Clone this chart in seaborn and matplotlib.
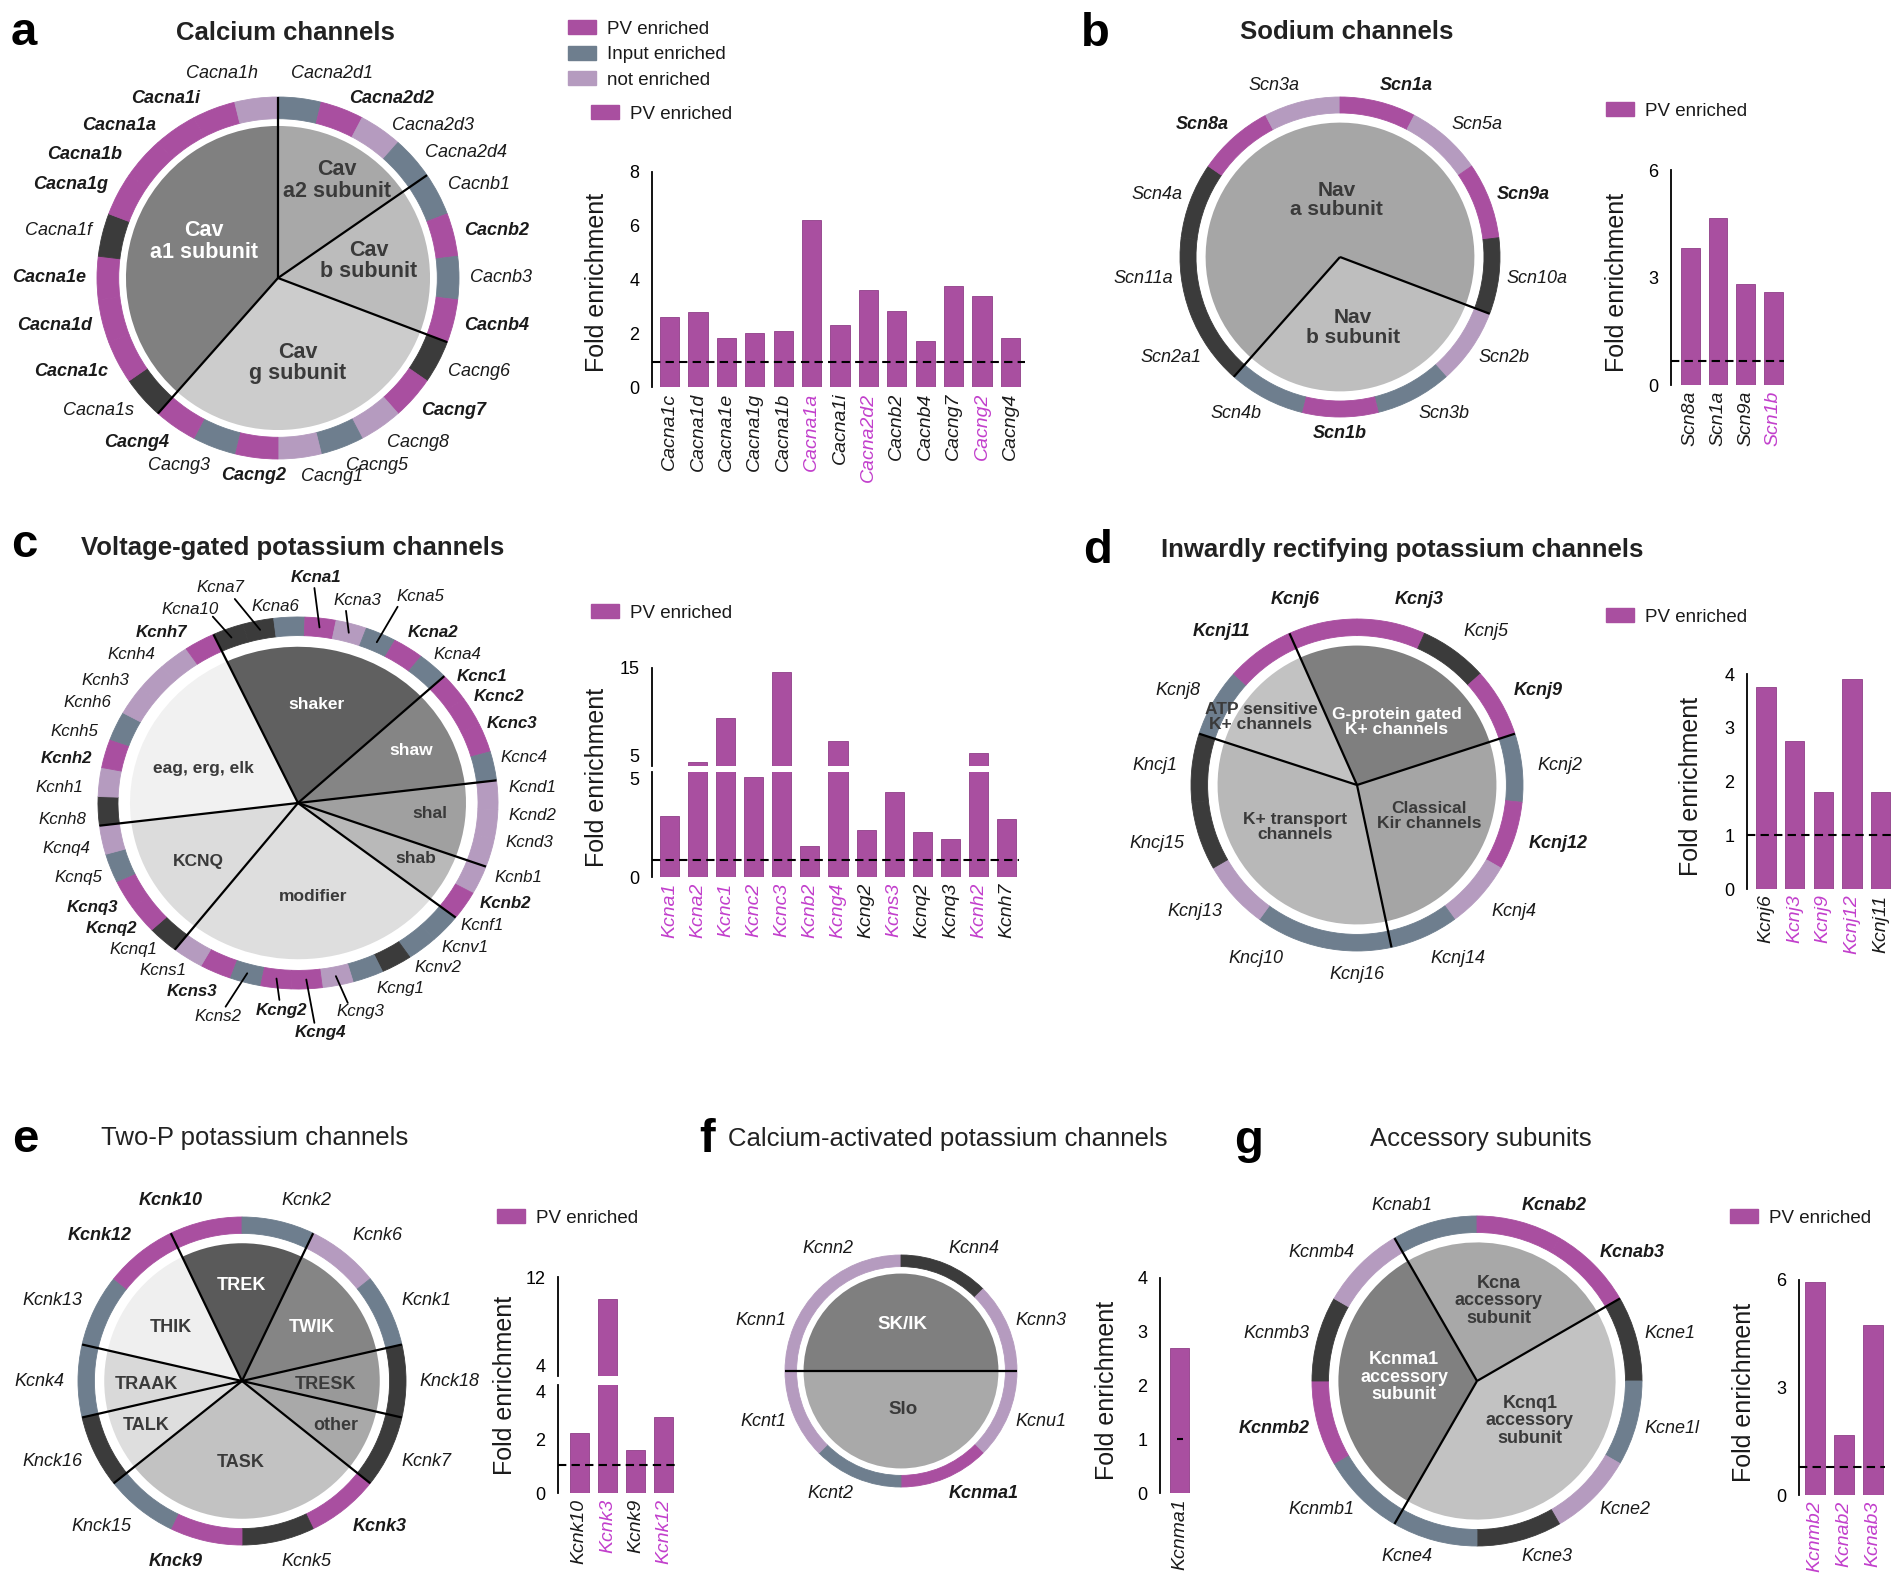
import numpy as np
import matplotlib
matplotlib.use("Agg")
import matplotlib.pyplot as plt
import matplotlib.colors as mcolors
from matplotlib.patches import Patch
import seaborn as sns

sns.set_theme(style="white")
plt.rcParams["font.family"] = ["Liberation Sans", "DejaVu Sans"]
plt.rcParams["axes.edgecolor"] = "black"
plt.rcParams["axes.linewidth"] = 1.3
plt.rcParams["text.color"] = "#1a1a1a"
plt.rcParams["ytick.color"] = "black"

W, H = 1902, 1591
fig = plt.figure(figsize=(W / 100, H / 100), dpi=100)
fig.patch.set_facecolor("white")

MAG = "#a94fa0"
COLORS = {"P": MAG, "I": "#6e7e8e", "N": "#b59bbf", "D": "#3b3b3b"}
LABEL_MAG = "#c23fcc"
STATUS_NAMES = {"P": "PV enriched", "I": "Input enriched", "N": "not enriched"}

# ---------------- data ----------------
# a  calcium channels (ring clockwise from the top)
ca_genes = ["Cacna2d1", "Cacna2d2", "Cacna2d3", "Cacna2d4", "Cacnb1", "Cacnb2", "Cacnb3", "Cacnb4",
            "Cacng6", "Cacng7", "Cacng8", "Cacng5", "Cacng1", "Cacng2", "Cacng3", "Cacng4",
            "Cacna1s", "Cacna1c", "Cacna1d", "Cacna1e", "Cacna1f", "Cacna1g", "Cacna1b", "Cacna1a",
            "Cacna1i", "Cacna1h"]
ca_status = "IPNI" + "IPIP" + "DPNINPIP" + "DPPPDPPPPN"
ca_groups = ["Cav\na2 subunit", "Cav\nb subunit", "Cav\ng subunit", "Cav\na1 subunit"]
ca_sizes = [4, 4, 8, 10]
ca_gcolors = ["#a8a8a8", "#bcbcbc", "#cccccc", "#808080"]
ca_bar_genes = ["Cacna1c", "Cacna1d", "Cacna1e", "Cacna1g", "Cacna1b", "Cacna1a", "Cacna1i",
                "Cacna2d2", "Cacnb2", "Cacnb4", "Cacng7", "Cacng2", "Cacng4"]
ca_bar_vals = [2.60, 2.79, 1.84, 2.01, 2.08, 6.20, 2.30, 3.62, 2.82, 1.71, 3.76, 3.40, 1.84]
ca_bar_hl = [0, 0, 0, 0, 0, 1, 0, 1, 0, 0, 0, 1, 0]
ca_thr = 0.93

# b  sodium channels
na_genes = ["Scn2b", "Scn3b", "Scn1b", "Scn4b", "Scn2a1", "Scn11a", "Scn4a", "Scn8a", "Scn3a",
            "Scn1a", "Scn5a", "Scn9a", "Scn10a"]
na_status = "NIPI" + "DDDPNPNPD"
na_groups = ["Nav\nb subunit", "Nav\na subunit"]
na_sizes = [4, 9]
na_gcolors = ["#bebebe", "#a6a6a6"]
na_bar_genes = ["Scn8a", "Scn1a", "Scn9a", "Scn1b"]
na_bar_vals = [3.83, 4.65, 2.82, 2.59]
na_bar_hl = [0, 0, 0, 1]
na_thr = 0.68

# c  voltage-gated potassium channels
kv_genes = ["Kcna10", "Kcna7", "Kcna6", "Kcna1", "Kcna3", "Kcna5", "Kcna2", "Kcna4",
            "Kcnc1", "Kcnc2", "Kcnc3", "Kcnc4",
            "Kcnd1", "Kcnd2", "Kcnd3",
            "Kcnb1", "Kcnb2",
            "Kcnf1", "Kcnv1", "Kcnv2", "Kcng1", "Kcng3", "Kcng4", "Kcng2", "Kcns2", "Kcns3", "Kcns1",
            "Kcnq1", "Kcnq2", "Kcnq3", "Kcnq5", "Kcnq4",
            "Kcnh8", "Kcnh1", "Kcnh2", "Kcnh5", "Kcnh6", "Kcnh3", "Kcnh4", "Kcnh7"]
kv_status = "DDIPNIPI" + "PPPI" + "NNN" + "NP" + "IIDINPPIPN" + "DPPIN" + "DNPINNNP"
kv_groups = ["shaker", "shaw", "shal", "shab", "modifier", "KCNQ", "eag, erg, elk"]
kv_sizes = [8, 4, 3, 2, 10, 5, 8]
kv_gcolors = ["#606060", "#858585", "#a0a0a0", "#b9b9b9", "#dedede", "#dcdcdc", "#f1f1f1"]
kv_bar_genes = ["Kcna1", "Kcna2", "Kcnc1", "Kcnc2", "Kcnc3", "Kcnb2", "Kcng4", "Kcng2", "Kcns3",
                "Kcnq2", "Kcnq3", "Kcnh2", "Kcnh7"]
kv_bar_vals = [2.92, 5.44, 9.88, 4.74, 14.56, 1.47, 7.59, 2.24, 4.06, 2.14, 1.81, 6.30, 2.78]
kv_bar_hl = [1, 1, 1, 1, 1, 1, 1, 0, 1, 0, 0, 1, 0]
kv_thr = 0.83

# d  inwardly rectifying potassium channels
kir_genes = ["Kcnj6", "Kcnj3", "Kcnj5", "Kcnj9", "Kcnj2", "Kcnj12", "Kcnj4", "Kcnj14",
             "Kcnj16", "Kncj10", "Kcnj13", "Kncj15", "Kncj1", "Kcnj8", "Kcnj11"]
kir_status = "PPDP" + "IPNI" + "IINDD" + "IP"
kir_groups = ["G-protein gated\nK+ channels", "Classical\nKir channels", "K+ transport\nchannels",
              "ATP sensitive\nK+ channels"]
kir_sizes = [4, 4, 5, 2]
kir_gcolors = ["#7f7f7f", "#a5a5a5", "#b8b8b8", "#c2c2c2"]
kir_bar_genes = ["Kcnj6", "Kcnj3", "Kcnj9", "Kcnj12", "Kcnj11"]
kir_bar_vals = [3.75, 2.76, 1.80, 3.91, 1.80]
kir_bar_hl = [0, 1, 1, 1, 0]
kir_thr = 1.0

# e  two-P potassium channels
k2p_genes = ["Kcnk10", "Kcnk2", "Kcnk6", "Kcnk1", "Knck18", "Kcnk7", "Kcnk3", "Kcnk5", "Knck9",
             "Knck15", "Knck16", "Kcnk4", "Kcnk13", "Kcnk12"]
k2p_status = "PINIDDPDPIDIIP"
k2p_groups = ["TREK", "TWIK", "TRESK", "other", "TASK", "TALK", "TRAAK", "THIK"]
k2p_sizes = [2, 2, 1, 1, 4, 1, 1, 2]
k2p_gcolors = ["#5a5a5a", "#858585", "#999999", "#a9a9a9", "#c2c2c2", "#dedede", "#d9d9d9", "#efefef"]
k2p_bar_genes = ["Kcnk10", "Kcnk3", "Kcnk9", "Kcnk12"]
k2p_bar_vals = [2.23, 10.25, 1.61, 2.81]
k2p_bar_hl = [0, 1, 0, 1]
k2p_thr = 1.03

# f  calcium-activated potassium channels
kca_genes = ["Kcnn1", "Kcnn2", "Kcnn4", "Kcnn3", "Kcnu1", "Kcnma1", "Kcnt2", "Kcnt1"]
kca_status = "NNDNNPIN"
kca_groups = ["SK/IK", "Slo"]
kca_sizes = [4, 4]
kca_gcolors = ["#7f7f7f", "#a9a9a9"]
kca_bar_genes = ["Kcnma1"]
kca_bar_vals = [2.69]
kca_bar_hl = [0]
kca_thr = 1.0

# g  accessory subunits
acc_genes = ["Kcnab1", "Kcnab2", "Kcnab3", "Kcne1", "Kcne1l", "Kcne2", "Kcne3", "Kcne4",
             "Kcnmb1", "Kcnmb2", "Kcnmb3", "Kcnmb4"]
acc_status = "IPP" + "DINDI" + "IPDN"
acc_groups = ["Kcna\naccessory\nsubunit", "Kcnq1\naccessory\nsubunit", "Kcnma1\naccessory\nsubunit"]
acc_sizes = [3, 5, 4]
acc_gcolors = ["#a8a8a8", "#c2c2c2", "#808080"]
acc_bar_genes = ["Kcnmb2", "Kcnab2", "Kcnab3"]
acc_bar_vals = [5.95, 1.67, 4.74]
acc_bar_hl = [1, 1, 1]
acc_thr = 0.79


# ---------------- helpers ----------------
def px_axes(x, y, w, h):
    return fig.add_axes([x / W, 1 - (y + h) / H, w / W, h / H])


def donut(cx, cy, rx, ry, genes, status, groups, sizes, gcolors, start, sector_pos, sector_fs,
          ring_in=0.9, pie_r=0.84, gap=1.06, gene_fs=13, special=None):
    lim = 1.1
    ax = px_axes(cx - lim * rx, cy - lim * ry, 2 * lim * rx, 2 * lim * ry)
    sa = 90 - start
    ring, _ = ax.pie(np.ones(len(genes)), colors=[COLORS[s] for s in status], radius=1.0,
                     startangle=sa, counterclock=False,
                     wedgeprops=dict(width=1 - ring_in, linewidth=0.6))
    for w in ring:
        w.set_edgecolor(w.get_facecolor())
    ax.pie(sizes, colors=gcolors, radius=pie_r, startangle=sa, counterclock=False,
           wedgeprops=dict(linewidth=0))
    ax.set_aspect("auto")
    ax.set_xlim(-lim, lim)
    ax.set_ylim(-lim, lim)
    n = sum(sizes)
    bounds = start + np.concatenate([[0], np.cumsum(sizes)[:-1]]) * 360 / n
    for b in np.deg2rad(bounds):
        ax.plot([0, np.sin(b)], [0, np.cos(b)], color="black", lw=1.6, solid_capstyle="butt")
    for name, (x, y), c in zip(groups, sector_pos, gcolors):
        lum = np.mean(mcolors.to_rgb(c))
        ax.text(x, y, name, ha="center", va="center", fontsize=sector_fs, fontweight="bold",
                color="white" if lum < 0.55 else "#3a3a3a", linespacing=1.05)
    special = special or {}
    rend = fig.canvas.get_renderer()
    for i, (g, s) in enumerate(zip(genes, status)):
        phi = np.deg2rad(start + (i + 0.5) * 360 / len(genes))
        ux, uy = np.sin(phi), np.cos(phi)
        t = ax.text(0, 0, g, ha="center", va="center", fontsize=gene_fs, style="italic",
                    fontweight="bold" if s == "P" else "normal", color="#1a1a1a")
        if g in special:
            pos, lead = special[g]
            t.set_position(pos)
            if lead is not None:
                ax.plot([lead[0], 0.95 * ux], [lead[1], 0.95 * uy], color="black", lw=1.3,
                        clip_on=False)
            continue
        bb = t.get_window_extent(rend)
        a = bb.width / 2 / rx
        bh = bb.height / 2 / ry
        sx = np.clip(ux / 0.08, -1, 1)
        t.set_position((ux * gap + a * sx, uy * (gap + bh)))
    return ax


def bar_axes(x0, unit, xlim, ytop, ybot):
    ax = px_axes(x0, ytop, (xlim[1] - xlim[0]) * unit, ybot - ytop)
    ax.set_facecolor("none")
    return ax


def bars(ax, genes, vals, hl, xlim, ylim, ticks, ticklabels, thr=None, show_x=True, short_dash=False):
    sns.barplot(x=genes, y=vals, color=MAG, saturation=1, width=0.68, errorbar=None,
                edgecolor="#8f3f88", linewidth=0.6, ax=ax)
    ax.set_xlim(*xlim)
    ax.set_ylim(*ylim)
    sns.despine(ax=ax, bottom=True)
    ax.set_yticks(ticks)
    ax.set_yticklabels(ticklabels)
    ax.tick_params(axis="y", direction="out", length=6, width=1.3, labelsize=13, pad=3)
    ax.set_xlabel("")
    ax.set_ylabel("")
    if thr is not None:
        if short_dash:
            p = ax.patches[0]
            xc = p.get_x() + p.get_width() / 2
            ax.hlines(thr, xc - 0.12, xc + 0.12, color="black", lw=1.5)
        else:
            ax.axhline(thr, color="black", lw=1.5, ls=(0, (4, 2.5)))
    if show_x:
        ax.set_xticks(range(len(genes)))
        ax.set_xticklabels(genes, rotation=90, fontstyle="italic", fontsize=14)
        ax.tick_params(axis="x", length=0, pad=4)
        for lab, h in zip(ax.get_xticklabels(), hl):
            lab.set_color(LABEL_MAG if h else "#1a1a1a")
    else:
        ax.set_xticks([])


def broken(ax_up, ax_lo):
    # separate the two labels that meet at the break
    ax_up.get_yticklabels()[0].set_va("bottom")
    ax_lo.get_yticklabels()[-1].set_va("top")


def ylabel(x, y):
    fig.text(x / W, 1 - y / H, "Fold enrichment", rotation=90, ha="center", va="center",
             fontsize=18, color="#1a1a1a")


def legend(x, y, statuses):
    handles = [Patch(facecolor=COLORS[s], edgecolor=COLORS[s]) for s in statuses]
    fig.legend(handles=handles, labels=[STATUS_NAMES[s] for s in statuses], loc="upper left",
               bbox_to_anchor=(x / W, 1 - y / H), frameon=False, fontsize=13.5,
               handlelength=1.5, handleheight=0.8, handletextpad=0.6, borderpad=0,
               borderaxespad=0, labelspacing=0.42)


def header(letter, lx, ly, title, tx, ty, bold):
    fig.text(lx / W, 1 - ly / H, letter, fontsize=34, fontweight="bold", ha="left",
             va="baseline", color="black")
    fig.text(tx / W, 1 - ty / H, title, fontsize=18.5, fontweight="bold" if bold else "normal",
             ha="center", va="baseline", color="#222222")


# ---------------- panel a ----------------
header("a", 11, 45, "Calcium channels", 285, 40, True)
ca_special = {
    "Cacna2d1": ((0.30, 1.13), None),
    "Cacna2d2": ((0.63, 0.99), None),
    "Cacna2d3": ((0.856, 0.845), None),
    "Cacna2d4": ((1.04, 0.696), None),
    "Cacna1h": ((-0.31, 1.13), None),
    "Cacna1i": ((-0.62, 0.99), None),
    "Cacna1a": ((-0.878, 0.845), None),
    "Cacna1b": ((-1.066, 0.68), None),
    "Cacng2": ((-0.133, -1.09), None),
}
donut(278, 278, 181, 181, ca_genes, ca_status, ca_groups, ca_sizes, ca_gcolors, 0,
      [(0.326, 0.54), (0.5, 0.094), (0.11, -0.47), (-0.41, 0.2)], 15.5,
      ring_in=0.88, gap=1.06, special=ca_special)
legend(568, 20, ["P", "I", "N"])
legend(591, 105, ["P"])
ax = bar_axes(652, 28.4, (-0.62, 12.5), 172, 387)
bars(ax, ca_bar_genes, ca_bar_vals, ca_bar_hl, (-0.62, 12.5), (0, 8), [0, 2, 4, 6, 8],
     ["0", "2", "4", "6", "8"], ca_thr)
ylabel(597, 282)

# ---------------- panel b ----------------
header("b", 1081, 46, "Sodium channels", 1347, 39, True)
donut(1340, 257, 160, 160, na_genes, na_status, na_groups, na_sizes, na_gcolors, 4 * 360 / 13,
      [(0.08, -0.44), (-0.02, 0.356)], 15, gap=1.05)
legend(1606, 102, ["P"])
ax = bar_axes(1671, 27.6, (-0.70, 3.4), 170, 385)
bars(ax, na_bar_genes, na_bar_vals, na_bar_hl, (-0.70, 3.4), (0, 6), [0, 1.5, 3, 4.5, 6],
     ["0", "", "3", "", "6"], na_thr)
ylabel(1617, 282)

# ---------------- panel c ----------------
header("c", 11, 557, "Voltage-gated potassium channels", 293, 555, True)
# label placement around the ring (text centre, optional leader-line start)
kv_special = {
    "Kcna10": ((-0.538, 1.041), (-0.426, 1.002)),
    "Kcna7": ((-0.39, 1.16), (-0.316, 1.097)),
    "Kcna6": ((-0.112, 1.059), None),
    "Kcna1": ((0.092, 1.21), (0.082, 1.156)),
    "Kcna3": ((0.295, 1.09), (0.24, 1.033)),
    "Kcna5": ((0.61, 1.109), (0.498, 1.055)),
    "Kcna2": ((0.675, 0.914), None),
    "Kcna4": ((0.795, 0.796), None),
    "Kcnc1": ((0.92, 0.68), None),
    "Kcnc2": ((1.006, 0.57), None),
    "Kcnc3": ((1.072, 0.43), None),
    "Kcnc4": ((1.128, 0.247), None),
    "Kcnd1": ((1.174, 0.086), None),
    "Kcnd2": ((1.174, -0.065), None),
    "Kcnd3": ((1.155, -0.215), None),
    "Kcnb1": ((1.1, -0.398), None),
    "Kcnb2": ((1.035, -0.538), None),
    "Kcnf1": ((0.92, -0.66), None),
    "Kcnv1": ((0.835, -0.775), None),
    "Kcnv2": ((0.70, -0.885), None),
    "Kcng1": ((0.51, -0.995), None),
    "Kcng3": ((0.313, -1.12), (0.249, -1.075)),
    "Kcng4": ((0.11, -1.235), (0.082, -1.182)),
    "Kcng2": ((-0.084, -1.113), (-0.093, -1.059)),
    "Kcns2": ((-0.399, -1.149), (-0.362, -1.095)),
    "Kcns3": ((-0.53, -1.016), None),
    "Kcns1": ((-0.675, -0.9), None),
    "Kcnq1": ((-0.825, -0.79), None),
    "Kcnq2": ((-0.935, -0.675), None),
    "Kcnq3": ((-1.03, -0.56), None),
    "Kcnq5": ((-1.1, -0.403), None),
    "Kcnq4": ((-1.157, -0.242), None),
    "Kcnh8": ((-1.176, -0.091), None),
    "Kcnh1": ((-1.194, 0.081), None),
    "Kcnh2": ((-1.157, 0.237), None),
    "Kcnh5": ((-1.12, 0.387), None),
    "Kcnh6": ((-1.055, 0.538), None),
    "Kcnh3": ((-0.963, 0.661), None),
    "Kcnh4": ((-0.833, 0.796), None),
    "Kcnh7": ((-0.685, 0.919), None),
}
donut(298, 803, 200, 186, kv_genes, kv_status, kv_groups, kv_sizes, kv_gcolors, -25,
      [(0.09, 0.527), (0.565, 0.28), (0.66, -0.054), (0.59, -0.296), (0.075, -0.505),
       (-0.5, -0.317), (-0.475, 0.188)], 12.5, gap=1.05, gene_fs=12.2, special=kv_special)
legend(591, 604, ["P"])
ax_up = bar_axes(652, 28.1, (-0.62, 12.45), 668, 766)
bars(ax_up, kv_bar_genes, kv_bar_vals, kv_bar_hl, (-0.62, 12.45), (5, 15), [5, 10, 15],
     ["5", "", "15"], None, show_x=False)
ax_lo = bar_axes(652, 28.1, (-0.62, 12.45), 772, 877)
bars(ax_lo, kv_bar_genes, kv_bar_vals, kv_bar_hl, (-0.62, 12.45), (0, 5), [0, 2.5, 5],
     ["0", "", "5"], kv_thr)
broken(ax_up, ax_lo)
ylabel(597, 777)

# ---------------- panel d ----------------
header("d", 1083, 563, "Inwardly rectifying potassium channels", 1402, 557, True)
donut(1357, 785, 166, 166, kir_genes, kir_status, kir_groups, kir_sizes, kir_gcolors, -24,
      [(0.241, 0.38), (0.434, -0.187), (-0.373, -0.253), (-0.578, 0.41)], 12.5, gap=1.09)
legend(1606, 608, ["P"])
ax = bar_axes(1747, 28.6, (-0.67, 4.4), 674, 889)
bars(ax, kir_bar_genes, kir_bar_vals, kir_bar_hl, (-0.67, 4.4), (0, 4), [0, 1, 2, 3, 4],
     ["0", "1", "2", "3", "4"], kir_thr)
ylabel(1691, 786)

# ---------------- panel e ----------------
header("e", 12, 1152, "Two-P potassium channels", 255, 1145, False)
donut(242, 1381, 164, 164, k2p_genes, k2p_status, k2p_groups, k2p_sizes, k2p_gcolors, -360 / 14,
      [(-0.006, 0.585), (0.427, 0.329), (0.512, -0.024), (0.573, -0.274), (-0.006, -0.494),
       (-0.585, -0.274), (-0.585, -0.024), (-0.433, 0.329)], 13, gap=1.08)
legend(497, 1209, ["P"])
ax_up = bar_axes(558, 28.1, (-0.76, 3.4), 1277, 1376)
bars(ax_up, k2p_bar_genes, k2p_bar_vals, k2p_bar_hl, (-0.76, 3.4), (4, 12), [4, 8, 12],
     ["4", "", "12"], None, show_x=False)
ax_lo = bar_axes(558, 28.1, (-0.76, 3.4), 1385, 1493)
bars(ax_lo, k2p_bar_genes, k2p_bar_vals, k2p_bar_hl, (-0.76, 3.4), (0, 4), [0, 2, 4],
     ["0", "2", "4"], k2p_thr)
broken(ax_up, ax_lo)
ylabel(505, 1385)

# ---------------- panel f ----------------
header("f", 699, 1152, "Calcium-activated potassium channels", 948, 1146, False)
donut(901, 1371, 116, 116, kca_genes, kca_status, kca_groups, kca_sizes, kca_gcolors, -90,
      [(0.017, 0.397), (0.017, -0.328)], 13.5, gap=1.07)
ax = bar_axes(1160, 28, (-0.71, 0.36), 1278, 1493)
bars(ax, kca_bar_genes, kca_bar_vals, kca_bar_hl, (-0.71, 0.36), (0, 4), [0, 1, 2, 3, 4],
     ["0", "1", "2", "3", "4"], kca_thr, short_dash=True)
ylabel(1107, 1390)

# ---------------- panel g ----------------
header("g", 1234, 1153, "Accessory subunits", 1481, 1146, False)
donut(1477, 1381, 165, 165, acc_genes, acc_status, acc_groups, acc_sizes, acc_gcolors, -30,
      [(0.133, 0.485), (0.321, -0.242), (-0.442, 0.024)], 13, gap=1.05)
legend(1730, 1209, ["P"])
ax = bar_axes(1799, 29, (-0.55, 2.4), 1280, 1495)
bars(ax, acc_bar_genes, acc_bar_vals, acc_bar_hl, (-0.55, 2.4), (0, 6), [0, 1.5, 3, 4.5, 6],
     ["0", "", "3", "", "6"], acc_thr)
ylabel(1744, 1392)

fig.savefig("out.png", dpi=100, facecolor="white")
